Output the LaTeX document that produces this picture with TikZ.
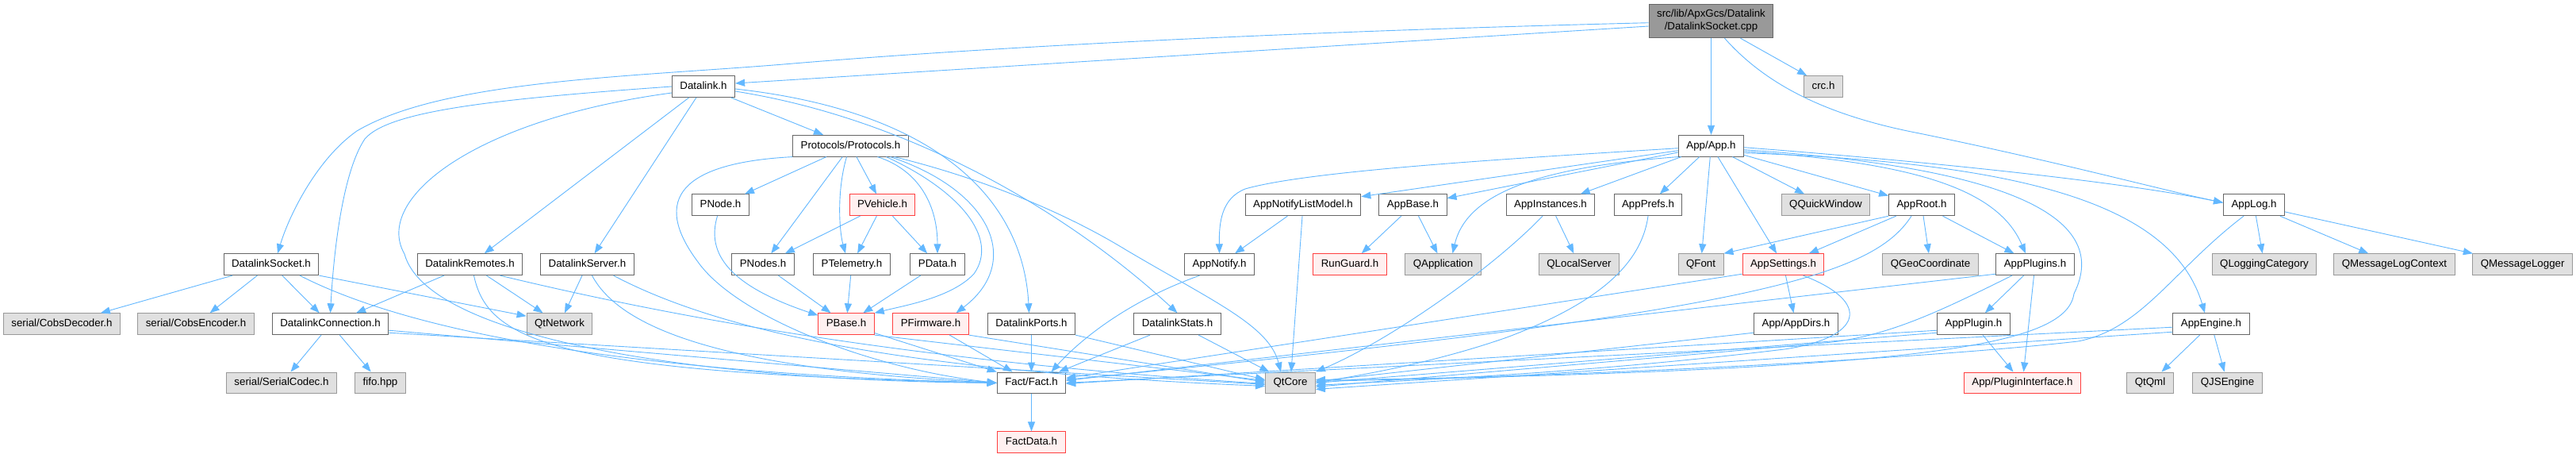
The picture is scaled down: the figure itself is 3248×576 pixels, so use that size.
\documentclass[tikz,border=0pt]{standalone}
\usepackage{fontspec}
\setmainfont{Liberation Sans}
\usepackage{tikz}
\usetikzlibrary{arrows.meta}
\newcommand{\dgFont}{\fontsize{13.3}{16}\selectfont}
\definecolor{DGEdge}{HTML}{63B8FF}
\definecolor{DGBorder}{HTML}{666666}
\definecolor{DGSysFill}{HTML}{E0E0E0}
\definecolor{DGSysBorder}{HTML}{999999}
\definecolor{DGRed}{HTML}{FF4040}
\definecolor{DGRedFill}{HTML}{FFF0F0}
\definecolor{DGRoot}{HTML}{999999}
\tikzset{
  dgBase/.style={
    rectangle, draw=#1, line width=1pt, text=black, font=\dgFont,
    inner xsep=10pt, inner ysep=0pt, minimum height=26.8pt,
    text height=9.6pt, text depth=2.9pt
  },
  dgFile/.style={dgBase=DGBorder, fill=white},
  dgSys/.style={dgBase=DGSysBorder, fill=DGSysFill},
  dgTrunc/.style={dgBase=DGRed, fill=DGRedFill},
  dgRoot/.style={
    rectangle, draw=DGBorder, fill=DGRoot, line width=1pt, text=black,
    font=\dgFont, align=center, inner xsep=10pt, inner ysep=0pt,
    minimum height=42.6pt
  },
  dgEdge/.style={draw=DGEdge, line width=0.9pt, -{Triangle[length=12pt,width=9pt]}}
}
\begin{document}
\begin{tikzpicture}[x=1pt, y=-1pt]
  \path[use as bounding box, fill=white] (0,0) rectangle (3248,576);

  \node[dgRoot] (root) at (2157.5,26.4) {src/lib/ApxGcs/Datalink\\/DatalinkSocket.cpp};
  \node[dgFile] (datalink) at (887,109) {Datalink.h};
  \node[dgSys] (crc) at (2299,109) {crc.h};
  \node[dgFile] (protocols) at (1072.5,183.7) {Protocols/Protocols.h};
  \node[dgFile] (app) at (2157.5,183.7) {App/App.h};

  \node[dgFile] (pnode) at (908.5,258.3) {PNode.h};
  \node[dgTrunc] (pvehicle) at (1112.5,258.3) {PVehicle.h};
  \node[dgFile] (notifylm) at (1643,258.3) {AppNotifyListModel.h};
  \node[dgFile] (appbase) at (1781.5,258.3) {AppBase.h};
  \node[dgFile] (appinst) at (1955,258.3) {AppInstances.h};
  \node[dgFile] (appprefs) at (2078,258.3) {AppPrefs.h};
  \node[dgSys] (qquick) at (2302,258.3) {QQuickWindow};
  \node[dgFile] (approot) at (2423,258.3) {AppRoot.h};
  \node[dgFile] (applog) at (2842,258.3) {AppLog.h};

  \node[dgFile] (socket) at (342,333.2) {DatalinkSocket.h};
  \node[dgFile] (remotes) at (592.5,333.2) {DatalinkRemotes.h};
  \node[dgFile] (server) at (740.5,333.2) {DatalinkServer.h};
  \node[dgFile] (pnodes) at (962,333.2) {PNodes.h};
  \node[dgFile] (ptelem) at (1074,333.2) {PTelemetry.h};
  \node[dgFile] (pdata) at (1182,333.2) {PData.h};
  \node[dgFile] (notify) at (1537.5,333.2) {AppNotify.h};
  \node[dgTrunc] (runguard) at (1702,333.2) {RunGuard.h};
  \node[dgSys] (qapp) at (1819.5,333.2) {QApplication};
  \node[dgSys] (qlocal) at (1991,333.2) {QLocalServer};
  \node[dgSys] (qfont) at (2144.5,333.2) {QFont};
  \node[dgTrunc] (settings) at (2248.5,333.2) {AppSettings.h};
  \node[dgSys] (qgeo) at (2434,333.2) {QGeoCoordinate};
  \node[dgFile] (plugins) at (2566,333.2) {AppPlugins.h};
  \node[dgSys] (qlogcat) at (2855,333.2) {QLoggingCategory};
  \node[dgSys] (qmsgctx) at (3019,333.2) {QMessageLogContext};
  \node[dgSys] (qmsglog) at (3180.6,333.2) {QMessageLogger};

  \node[dgSys] (decoder) at (78,408.2) {serial/CobsDecoder.h};
  \node[dgSys] (encoder) at (247,408.2) {serial/CobsEncoder.h};
  \node[dgFile] (conn) at (416.5,408.2) {DatalinkConnection.h};
  \node[dgSys] (qtnet) at (705.5,408.2) {QtNetwork};
  \node[dgTrunc] (pbase) at (1067,408.2) {PBase.h};
  \node[dgTrunc] (pfirm) at (1173.5,408.2) {PFirmware.h};
  \node[dgFile] (ports) at (1300.5,408.2) {DatalinkPorts.h};
  \node[dgFile] (stats) at (1484.5,408.2) {DatalinkStats.h};
  \node[dgFile] (appdirs) at (2264.5,408.2) {App/AppDirs.h};
  \node[dgFile] (plugin) at (2488.5,408.2) {AppPlugin.h};
  \node[dgFile] (engine) at (2788,408.2) {AppEngine.h};

  \node[dgSys] (codec) at (355,482.4) {serial/SerialCodec.h};
  \node[dgSys] (fifo) at (479.5,482.4) {fifo.hpp};
  \node[dgFile] (fact) at (1300.5,482.4) {Fact/Fact.h};
  \node[dgSys] (qtcore) at (1627,482.4) {QtCore};
  \node[dgTrunc] (pluginif) at (2550,482.4) {App/PluginInterface.h};
  \node[dgSys] (qtqml) at (2711,482.4) {QtQml};
  \node[dgSys] (qjs) at (2808.5,482.4) {QJSEngine};
  \node[dgTrunc] (factdata) at (1300.5,557.3) {FactData.h};

  \draw[dgEdge] ([yshift=-6.6]root.west) -- ([yshift=4]datalink.east);
  \draw[dgEdge] ([yshift=-2.3]root.west) .. controls (1700,38) and (1300,55) .. (1000,80) .. controls (800,97) and (560,100) .. (450,165) .. controls (400,200) and (365,270) .. ([xshift=8]socket.north);
  \draw[dgEdge] ([xshift=37]root.south) -- ([xshift=4]crc.north west);
  \draw[dgEdge] (root) -- (app);
  \draw[dgEdge] ([xshift=17]root.south) .. controls (2225,105) and (2300,145) .. (2420,168) .. controls (2600,205) and (2720,238) .. ([yshift=3]applog.west);

  \draw[dgEdge] (datalink.west) .. controls (620,125) and (490,140) .. (460,175) .. controls (430,220) and (420,330) .. (conn.north);
  \draw[dgEdge] ([yshift=-8]datalink.west) .. controls (600,150) and (470,250) .. (510,320) .. controls (540,430) and (900,480) .. (fact.west);
  \draw[dgEdge] (datalink) -- (remotes);
  \draw[dgEdge] (datalink) -- (server);
  \draw[dgEdge] (datalink) -- (protocols);
  \draw[dgEdge] ([yshift=-3]datalink.east) .. controls (1180,140) and (1290,250) .. ([xshift=-3]ports.north);
  \draw[dgEdge] ([yshift=-6]datalink.east) .. controls (1150,150) and (1350,270) .. (stats.north);

  \draw[dgEdge] (protocols) -- (pnode);
  \draw[dgEdge] (protocols) -- (pnodes);
  \draw[dgEdge] ([xshift=-5]protocols.south) .. controls (1055,240) and (1058,290) .. ([xshift=-8]ptelem.north);
  \draw[dgEdge] (protocols) -- (pvehicle);
  \draw[dgEdge] ([xshift=34]protocols.south) .. controls (1160,215) and (1182,260) .. (pdata.north);
  \draw[dgEdge] ([xshift=45]protocols.south) .. controls (1210,240) and (1260,300) .. (1228,345) .. controls (1200,375) and (1140,385) .. (pbase.north east);
  \draw[dgEdge] ([xshift=50]protocols.south) .. controls (1250,240) and (1290,330) .. ([xshift=32]pfirm.north);
  \draw[dgEdge] ([xshift=55]protocols.south) .. controls (1220,220) and (1330,260) .. (1420,315) .. controls (1530,380) and (1600,410) .. ([xshift=-12]qtcore.north);
  \draw[dgEdge] (protocols.south west) .. controls (860,205) and (820,250) .. (880,330) .. controls (930,400) and (1100,465) .. (fact.west);

  \draw[dgEdge] (pvehicle) -- (pnodes);
  \draw[dgEdge] (pvehicle) -- (ptelem);
  \draw[dgEdge] (pvehicle) -- (pdata);
  \draw[dgEdge] ([xshift=-4]pnode.south) .. controls (890,320) and (920,360) .. ([yshift=-3]pbase.north west);
  \draw[dgEdge] (pnodes) -- (pbase);
  \draw[dgEdge] (ptelem) -- (pbase);
  \draw[dgEdge] (pdata) -- (pbase);
  \draw[dgEdge] (pbase) -- (fact);
  \draw[dgEdge] (pbase.south east) -- ([yshift=3]qtcore.west);
  \draw[dgEdge] (pfirm) -- (fact);
  \draw[dgEdge] (pfirm.south east) -- ([yshift=1]qtcore.west);
  \draw[dgEdge] (ports) -- (fact);
  \draw[dgEdge] (ports.south east) -- ([yshift=4]qtcore.west);
  \draw[dgEdge] (stats) -- (fact);
  \draw[dgEdge] (stats) -- (qtcore);
  \draw[dgEdge] (fact) -- (factdata);

  \draw[dgEdge] (socket) -- (decoder);
  \draw[dgEdge] (socket) -- (encoder);
  \draw[dgEdge] (socket) -- (conn);
  \draw[dgEdge] (socket.south east) -- ([yshift=10]qtnet.west);
  \draw[dgEdge] ([xshift=36]socket.south) .. controls (520,420) and (800,470) .. (fact.west);
  \draw[dgEdge] (conn) -- (codec);
  \draw[dgEdge] (conn) -- (fifo);
  \draw[dgEdge] ([yshift=-8]conn.east) -- (fact.west);
  \draw[dgEdge] ([yshift=-11]conn.east) -- ([yshift=-2]qtcore.west);
  \draw[dgEdge] (remotes) -- (conn);
  \draw[dgEdge] (remotes) -- (qtnet);
  \draw[dgEdge] ([xshift=5]remotes.south) .. controls (615,430) and (700,470) .. (fact.west);
  \draw[dgEdge] ([xshift=38]remotes.south) .. controls (850,400) and (1150,455) .. ([yshift=-1]qtcore.west);
  \draw[dgEdge] (server) -- (qtnet);
  \draw[dgEdge] ([xshift=6]server.south) .. controls (780,410) and (900,465) .. (fact.west);
  \draw[dgEdge] ([xshift=33]server.south) .. controls (930,430) and (1200,470) .. ([yshift=-4]qtcore.west);

  \draw[dgEdge] ([xshift=-25]notify.south) .. controls (1420,380) and (1360,430) .. ([xshift=25]fact.north);
  \draw[dgEdge] (notifylm) -- (notify);
  \draw[dgEdge] (notifylm) -- (qtcore);

  \draw[dgEdge] ([yshift=-3]app.west) .. controls (1900,200) and (1650,215) .. (1570,238) .. controls (1540,250) and (1537,280) .. (notify.north);
  \draw[dgEdge] (app) -- (notifylm);
  \draw[dgEdge] (app) -- (appbase);
  \draw[dgEdge] (app.south west) .. controls (1950,210) and (1850,240) .. ([xshift=12]qapp.north);
  \draw[dgEdge] (app) -- (appinst);
  \draw[dgEdge] (app) -- (appprefs);
  \draw[dgEdge] (app) -- (qfont);
  \draw[dgEdge] (app) -- (settings);
  \draw[dgEdge] (app) -- (qquick);
  \draw[dgEdge] (app) -- (approot);
  \draw[dgEdge] ([yshift=-7]app.east) .. controls (2420,205) and (2520,240) .. ([xshift=-12]plugins.north);
  \draw[dgEdge] ([yshift=-5]app.east) .. controls (2520,210) and (2665,270) .. (2615,370) .. controls (2605,440) and (2400,465) .. ([yshift=2]qtcore.east);
  \draw[dgEdge] ([yshift=-2]app.east) .. controls (2450,205) and (2680,230) .. ([yshift=3]applog.west);
  \draw[dgEdge] ([yshift=-9]app.east) .. controls (2560,205) and (2740,260) .. ([xshift=-8]engine.north);

  \draw[dgEdge] (appbase) -- (runguard);
  \draw[dgEdge] (appbase) -- (qapp);
  \draw[dgEdge] (appinst) -- (qlocal);
  \draw[dgEdge] ([xshift=-10]appinst.south) .. controls (1880,340) and (1750,430) .. (qtcore.north east);
  \draw[dgEdge] (appprefs.south) .. controls (2070,330) and (2020,380) .. (1900,425) .. controls (1800,460) and (1700,475) .. (qtcore.east);

  \draw[dgEdge] (approot.south west) -- (qfont.north east);
  \draw[dgEdge] (approot) -- (settings);
  \draw[dgEdge] (approot) -- (qgeo);
  \draw[dgEdge] (approot) -- (plugins);
  \draw[dgEdge] ([xshift=-13]approot.south) .. controls (2360,350) and (2200,395) .. ([yshift=4]fact.east);

  \draw[dgEdge] (settings) -- (appdirs);
  \draw[dgEdge] ([yshift=-12]settings.west) -- ([yshift=6]fact.east);
  \draw[dgEdge] ([xshift=25]settings.south) .. controls (2360,380) and (2350,425) .. (2250,440) .. controls (2000,470) and (1800,478) .. ([yshift=-3]qtcore.east);
  \draw[dgEdge] ([yshift=-11]appdirs.west) -- ([yshift=2]qtcore.east);

  \draw[dgEdge] (plugins) -- (plugin);
  \draw[dgEdge] (plugins) -- (pluginif);
  \draw[dgEdge] ([yshift=-12]plugins.west) -- ([yshift=3]fact.east);
  \draw[dgEdge] ([xshift=-29]plugins.south) .. controls (2450,390) and (2380,425) .. (2300,432) .. controls (2100,450) and (1800,475) .. ([yshift=-5]qtcore.east);
  \draw[dgEdge] (plugin) -- (pluginif);
  \draw[dgEdge] ([yshift=-8]plugin.west) -- ([yshift=-1]fact.east);
  \draw[dgEdge] ([yshift=-11]plugin.west) -- (qtcore.east);

  \draw[dgEdge] (applog) -- (qlogcat);
  \draw[dgEdge] (applog) -- (qmsgctx);
  \draw[dgEdge] (applog) -- (qmsglog);
  \draw[dgEdge] ([xshift=-13]applog.south) .. controls (2740,340) and (2700,415) .. (2620,430) .. controls (2400,455) and (1900,478) .. ([yshift=4]qtcore.east);
  \draw[dgEdge] (engine) -- (qtqml);
  \draw[dgEdge] (engine) -- (qjs);
  \draw[dgEdge] ([yshift=-4]engine.west) -- (fact.east);
  \draw[dgEdge] ([yshift=-10]engine.west) -- ([yshift=-8]qtcore.east);
\end{tikzpicture}
\end{document}
